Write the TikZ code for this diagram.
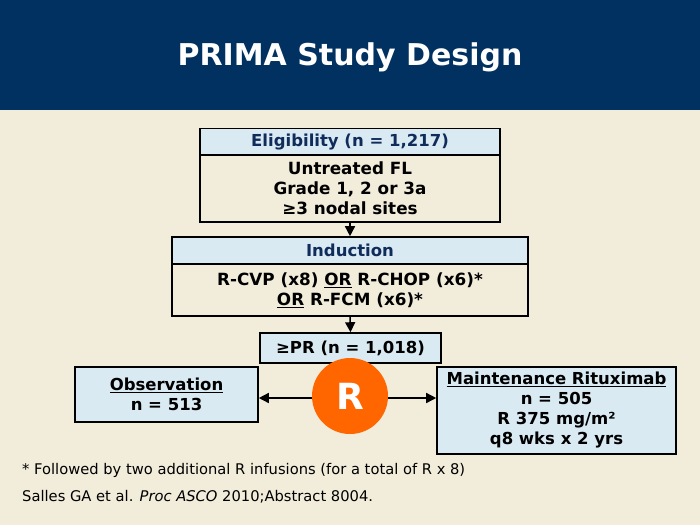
\documentclass[tikz,border=0pt]{standalone}
\usepackage{fontspec}
\setmainfont{DejaVu Sans}
\usetikzlibrary{arrows.meta}
\definecolor{navy}{RGB}{0,49,96}
\definecolor{cream}{RGB}{242,236,218}
\definecolor{lblue}{RGB}{217,234,243}
\definecolor{hdtext}{RGB}{16,44,90}
\definecolor{orng}{RGB}{255,102,0}
\tikzset{
  hbox/.style={draw=black, line width=1.6pt, fill=lblue, inner sep=0pt, align=center,
    font=\bfseries\fontsize{16.5}{20}\selectfont},
  bbox/.style={draw=black, line width=1.6pt, fill=cream, inner sep=0pt, align=center,
    font=\bfseries\fontsize{16.8}{20}\selectfont},
  conn/.style={line width=1.5pt, -{Triangle[length=10pt,width=10pt]}},
}
\begin{document}
\begin{tikzpicture}[x=1pt,y=-1pt]
\useasboundingbox (0,0) rectangle (700,525);
\fill[cream] (0,0) rectangle (700,525);
\fill[navy] (0,0) rectangle (700,110);
\node[text=white, font=\bfseries\fontsize{30}{34}\selectfont] (title) at (350,57) {PRIMA Study Design};
% Eligibility
\node[hbox, text=hdtext, minimum width=300pt, minimum height=27pt] (eligh) at (350,142) {Eligibility (n = 1,217)};
\node[bbox, minimum width=300pt, minimum height=67pt] (eligb) at (350,188.5) {Untreated FL\\Grade 1, 2 or 3a\\≥3 nodal sites};
% Induction
\node[hbox, text=hdtext, minimum width=356pt, minimum height=27pt] (indh) at (350,250.5) {Induction};
\node[bbox, minimum width=356pt, minimum height=52pt] (indb) at (350,290) {R-CVP (x8) \underline{OR} R-CHOP (x6)*\\\underline{OR} R-FCM (x6)*};
% PR
\node[hbox, minimum width=181pt, minimum height=30pt] (pr) at (350.5,348) {≥PR (n = 1,018)};
% Observation
\node[hbox, minimum width=183pt, minimum height=55pt] (obs) at (166.5,394.5) {\underline{Observation}\\n = 513};
% Maintenance
\node[hbox, minimum width=239pt, minimum height=87pt] (mnt) at (556.5,410.5) {\underline{Maintenance Rituximab}\\n = 505\\R 375 mg/m²\\q8 wks x 2 yrs};
% R circle
\node[circle, fill=orng, minimum size=76pt, inner sep=0pt, text=white, font=\bfseries\fontsize{36}{40}\selectfont] (r) at (350,396) {R};
% connectors
\draw[conn] (eligb.south) -- (indh.north);
\draw[conn] (indb.south) -- (pr.north);
\draw[conn] (r.west |- 0,398) -- (obs.east |- 0,398);
\draw[conn] (r.east |- 0,398) -- (mnt.west |- 0,398);
% footer
\node[anchor=west, font=\fontsize{14.7}{18}\selectfont, inner sep=0pt] (fn1) at (22,470) {* Followed by two additional R infusions (for a total of R x 8)};
\node[anchor=west, font=\fontsize{14.7}{18}\selectfont, inner sep=0pt] (fn2) at (22,497) {Salles GA et al. \textit{Proc ASCO} 2010;Abstract 8004.};
\end{tikzpicture}
\end{document}
